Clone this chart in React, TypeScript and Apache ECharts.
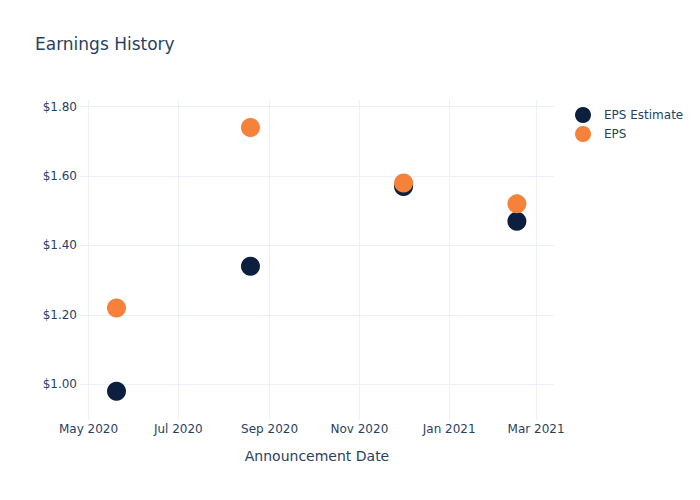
import React, { useEffect, useRef } from "react";
import * as echarts from "echarts";

const DAY = 86400000;
const dates = [
  new Date(2020, 4, 20).getTime(),
  new Date(2020, 7, 19).getTime(),
  new Date(2020, 11, 1).getTime(),
  new Date(2021, 1, 16).getTime(),
];
const epsEstimate = [0.98, 1.34, 1.57, 1.47];
const eps = [1.22, 1.74, 1.58, 1.52];
const xTicks = [
  new Date(2020, 4, 1).getTime(),
  new Date(2020, 6, 1).getTime(),
  new Date(2020, 8, 1).getTime(),
  new Date(2020, 10, 1).getTime(),
  new Date(2021, 0, 1).getTime(),
  new Date(2021, 2, 1).getTime(),
];
const xTickLabels = ["May 2020", "Jul 2020", "Sep 2020", "Nov 2020", "Jan 2021", "Mar 2021"];
const yTicks = [1.0, 1.2, 1.4, 1.6, 1.8];

const TEXT = "#2a3f5f";
const FONT = "DejaVu Sans";

export default function App() {
  const ref = useRef<HTMLDivElement>(null);
  useEffect(() => {
    document.body.style.margin = "0";
    if (!ref.current) return;
    const chart = echarts.init(ref.current, undefined, { renderer: "svg" });
    chart.setOption({
      animation: false,
      backgroundColor: "#ffffff",
      textStyle: { fontFamily: FONT },
      title: {
        text: "Earnings History",
        left: 30,
        top: 30,
        textStyle: { fontSize: 17, fontWeight: "normal", color: TEXT, fontFamily: FONT },
      },
      legend: {
        orient: "vertical",
        left: 570,
        top: 102,
        itemWidth: 16,
        itemHeight: 16,
        itemGap: 3,
        icon: "circle",
        textStyle: { fontSize: 12, color: TEXT, fontFamily: FONT, padding: [0, 0, 0, 8] },
        data: ["EPS Estimate", "EPS"],
      },
      grid: { left: 80, right: 146, top: 100, bottom: 80, containLabel: false },
      xAxis: {
        type: "value",
        min: xTicks[0] - 5.8 * DAY,
        max: xTicks[5] + 12.2 * DAY,
        name: "Announcement Date",
        nameLocation: "middle",
        nameGap: 29,
        nameTextStyle: { fontSize: 14, color: TEXT, fontFamily: FONT },
        axisLine: { show: false },
        axisTick: { show: false, customValues: xTicks },
        axisLabel: {
          customValues: xTicks,
          margin: 3,
          fontSize: 12,
          color: TEXT,
          fontFamily: FONT,
          formatter: (v: number) => {
            const i = xTicks.findIndex((t) => Math.abs(t - v) < DAY / 2);
            return i >= 0 ? xTickLabels[i] : "";
          },
        },
        splitLine: { show: true, lineStyle: { color: "#ebf0f8", width: 1 } },
      },
      yAxis: {
        type: "value",
        min: 0.8971,
        max: 1.8193,
        axisLine: { show: false },
        axisTick: { show: false, customValues: yTicks },
        axisLabel: {
          customValues: yTicks,
          margin: 3,
          fontSize: 12,
          color: TEXT,
          fontFamily: FONT,
          formatter: (v: number) => "$" + v.toFixed(2),
        },
        splitLine: { show: true, lineStyle: { color: "#ebf0f8", width: 1 } },
      },
      series: [
        {
          name: "EPS Estimate",
          type: "scatter",
          symbol: "circle",
          symbolSize: 19,
          itemStyle: { color: "#0c1f3f", opacity: 1 },
          data: dates.map((d, i) => [d, epsEstimate[i]]),
        },
        {
          name: "EPS",
          type: "scatter",
          symbol: "circle",
          symbolSize: 19,
          itemStyle: { color: "#f5813a", opacity: 1 },
          data: dates.map((d, i) => [d, eps[i]]),
        },
      ],
    });
    return () => chart.dispose();
  }, []);
  return <div ref={ref} style={{ width: 700, height: 500 }} />;
}
